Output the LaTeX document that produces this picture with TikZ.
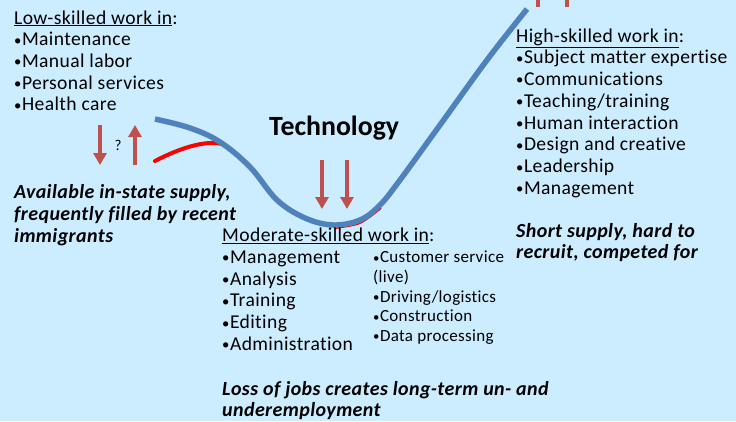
\documentclass[tikz,border=0pt]{standalone}
\usepackage{fontspec}
\setmainfont{Carlito}[RawFeature={-liga}, LetterSpace=2]
\newfontfamily\techfont{Carlito}[RawFeature={-liga}]
\usetikzlibrary{arrows.meta}
\definecolor{bg}{RGB}{204,236,255}
\definecolor{curveblue}{RGB}{79,129,189}
\definecolor{arrred}{RGB}{192,80,77}
\newcommand{\bul}{\raisebox{0.5pt}{\scalebox{0.75}{•}}\hspace{0.5pt}}
\tikzset{
  txt/.style={anchor=base west, inner sep=0pt, font=\fontsize{19.6}{21}\selectfont},
  small/.style={anchor=base west, inner sep=0pt, font=\fontsize{17}{19}\selectfont},
  emph/.style={anchor=base west, inner sep=0pt, font=\fontsize{20}{21}\selectfont\bfseries\itshape},
  redarrow/.style={draw=arrred, line width=4pt, -{Triangle[width=13pt,length=12pt]}},
}
\begin{document}
\begin{tikzpicture}[x=1pt,y=-1pt]
\useasboundingbox (0,0) rectangle (736,421);
\fill[bg] (0,0) rectangle (736,421);

% curves
\draw[red, line width=4pt, line cap=round] (155,161) .. controls (180,148) and (205,140) .. (222,144);
\draw[red, line width=2pt] plot[smooth] coordinates {(335,228) (360,223) (381,208)};
\draw[curveblue, line width=5.5pt] plot[smooth, tension=0.6] coordinates {(155,119) (190,128) (220,142) (250,167) (277,200) (305,218) (333,225) (360,220) (380,205) (400,180) (440,125) (487,60) (527,9)};

% arrows
\coordinate (la1) at (100,125); \coordinate (la2) at (100,165);
\draw[redarrow] (la1) -- (la2);
\coordinate (lb1) at (135,165); \coordinate (lb2) at (135,125);
\draw[redarrow] (lb1) -- (lb2);
\node[inner sep=0pt, font=\fontsize{15}{18}\selectfont] (q) at (118,145) {?};
\coordinate (m1a) at (322,160); \coordinate (m1b) at (322,209);
\draw[redarrow] (m1a) -- (m1b);
\coordinate (m2a) at (347,160); \coordinate (m2b) at (347,209);
\draw[redarrow] (m2a) -- (m2b);
\fill[arrred] (536,0) rectangle (540,7);
\fill[arrred] (565,0) rectangle (569,7);

\node[anchor=base west, inner sep=0pt, font=\fontsize{27.8}{30}\techfont\bfseries] (tech) at (269,135) {Technology};

% low-skilled
\node[txt] (l0) at (14,24) {\underline{Low-skilled work in}:};
\node[txt] (l1) at (14,45.5) {\bul Maintenance};
\node[txt] (l2) at (14,67.3) {\bul Manual labor};
\node[txt] (l3) at (14,89) {\bul Personal services};
\node[txt] (l4) at (14,110.5) {\bul Health care};
\node[emph] (le1) at (14,198) {Available in-state supply,};
\node[emph] (le2) at (14,220) {frequently filled by recent};
\node[emph] (le3) at (14,242) {immigrants};

% moderate
\node[txt] (m0) at (222,241.5) {\underline{Moderate-skilled work in}:};
\node[txt] (m1) at (222,263) {\bul Management};
\node[txt] (m2) at (222,285) {\bul Analysis};
\node[txt] (m3) at (222,306.5) {\bul Training};
\node[txt] (m4) at (222,328.5) {\bul Editing};
\node[txt] (m5) at (222,350) {\bul Administration};
\node[small] (r1) at (373,262.7) {\bul Customer service};
\node[small] (r2) at (373,282) {(live)};
\node[small] (r3) at (373,302) {\bul Driving/logistics};
\node[small] (r4) at (373,321.5) {\bul Construction};
\node[small] (r5) at (373,341) {\bul Data processing};
\node[emph] (me1) at (222,395) {Loss of jobs creates long-term un- and};
\node[emph] (me2) at (222,416) {underemployment};

% high
\node[txt] (h0) at (516,42) {\underline{High-skilled work in}:};
\node[txt] (h1) at (516,63.5) {\bul Subject matter expertise};
\node[txt] (h2) at (516,85.3) {\bul Communications};
\node[txt] (h3) at (516,107) {\bul Teaching/training};
\node[txt] (h4) at (516,129) {\bul Human interaction};
\node[txt] (h5) at (516,150.7) {\bul Design and creative};
\node[txt] (h6) at (516,172.5) {\bul Leadership};
\node[txt] (h7) at (516,194) {\bul Management};
\node[emph] (he1) at (516,237) {Short supply, hard to};
\node[emph] (he2) at (516,258.5) {recruit, competed for};
\end{tikzpicture}
\end{document}
